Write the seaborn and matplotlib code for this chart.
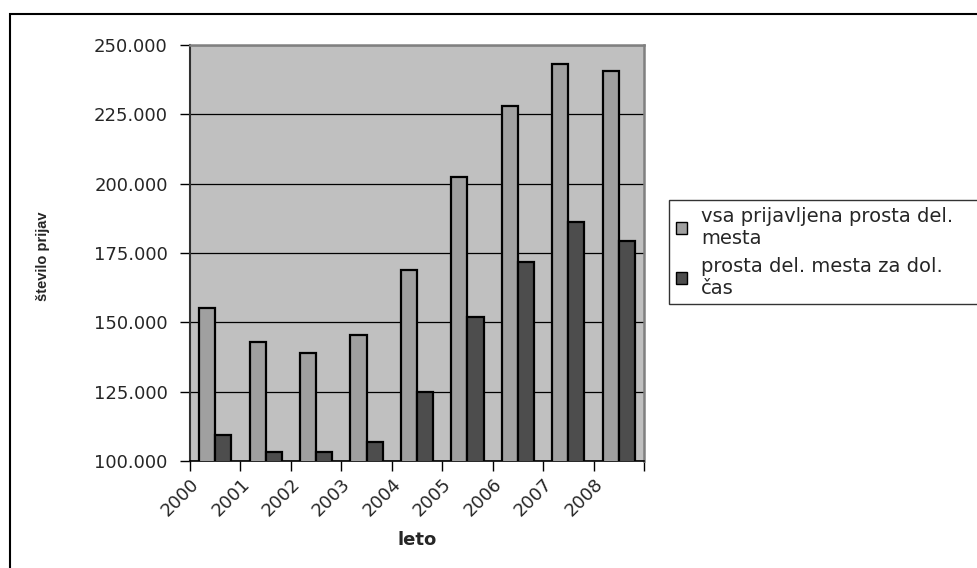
import numpy as np
import pandas as pd
import matplotlib
matplotlib.use("Agg")
import matplotlib.pyplot as plt
from matplotlib.patches import Rectangle
from matplotlib.ticker import FuncFormatter
import seaborn as sns

sns.set_style("white")
plt.rcParams['font.family'] = ['DejaVu Sans']

# data
years = ["2000", "2001", "2002", "2003", "2004", "2005", "2006", "2007", "2008"]
vsa_prijavljena = [155000, 143000, 139000, 145500, 169000, 202500, 228000, 243000, 240500]
za_dol_cas = [109500, 103300, 103300, 107000, 124700, 152000, 171800, 186000, 179200]
series_names = ["vsa prijavljena prosta del.\nmesta", "prosta del. mesta za dol.\nčas"]

df = pd.DataFrame({
    "leto": years * 2,
    "prijave": vsa_prijavljena + za_dol_cas,
    "serija": [series_names[0]] * len(years) + [series_names[1]] * len(years),
})

fig = plt.figure(figsize=(9.77, 5.68), dpi=100)
ax = fig.add_axes([190 / 977, 1 - 461 / 568, 454 / 977, 416 / 568])
ax.set_facecolor("#C0C0C0")

sns.barplot(data=df, x="leto", y="prijave", hue="serija", order=years,
            palette=["#A0A0A0", "#4D4D4D"], width=0.64,
            edgecolor="black", linewidth=1.6, ax=ax, zorder=3)

ax.set_ylim(100000, 250000)
ax.set_yticks(np.arange(100000, 250001, 25000))
ax.yaxis.set_major_formatter(FuncFormatter(lambda v, p: f"{v:,.0f}".replace(",", ".")))
ax.grid(axis="y", color="black", linewidth=0.9, zorder=0)
ax.set_axisbelow(True)

# category labels sit on the boundaries, like in the original
ax.set_xlim(-0.5, len(years) - 0.5)
ax.set_xticks(np.arange(len(years) + 1) - 0.5)
ax.set_xticklabels(years + [""], rotation=45, ha="right", va="top",
                   rotation_mode="anchor")
ax.tick_params(axis="both", which="both", direction="out", length=7, width=1,
               color="black", labelsize=13)
ax.tick_params(axis="y", pad=9)
ax.tick_params(axis="x", pad=3, bottom=True)
ax.tick_params(axis="y", left=True)

for side in ["top", "right"]:
    ax.spines[side].set_color("#808080")
    ax.spines[side].set_linewidth(1.8)
ax.spines["left"].set_color("#303030")
ax.spines["left"].set_linewidth(1.5)
ax.spines["bottom"].set_color("black")
ax.spines["bottom"].set_linewidth(1.2)

ax.set_xlabel("")
ax.set_ylabel("")
fig.text(43 / 977, 1 - 256 / 568, "število prijav", rotation=90, ha="center",
         va="center", fontsize=10.5, fontweight="bold", family="Liberation Sans")
fig.text(417 / 977, 1 - 540 / 568, "leto", ha="center", va="center",
         fontsize=13, fontweight="bold")

# legend box runs past the right edge of the picture, as in the original
handles, labels = ax.get_legend_handles_labels()
ax.legend_.remove()
leg = fig.legend(handles, labels, loc="upper left", mode="expand",
                 bbox_to_anchor=(669 / 977, 1 - 200 / 568, 0.34, 0),
                 bbox_transform=fig.transFigure, borderaxespad=0,
                 fontsize=14, frameon=True, fancybox=False, shadow=False,
                 handlelength=0.6, handleheight=0.6, handletextpad=0.7,
                 labelspacing=0.45, borderpad=0.35)
leg.get_frame().set_edgecolor("black")
leg.get_frame().set_linewidth(1.0)
for h in leg.legend_handles:
    h.set_linewidth(1.0)

# outer chart frame
fig.add_artist(Rectangle((9.5 / 977, -0.1), 1.2, 1.1 - 14 / 568,
                         transform=fig.transFigure, fill=False,
                         edgecolor="black", linewidth=1.5))

fig.savefig("out.png", dpi=100)
